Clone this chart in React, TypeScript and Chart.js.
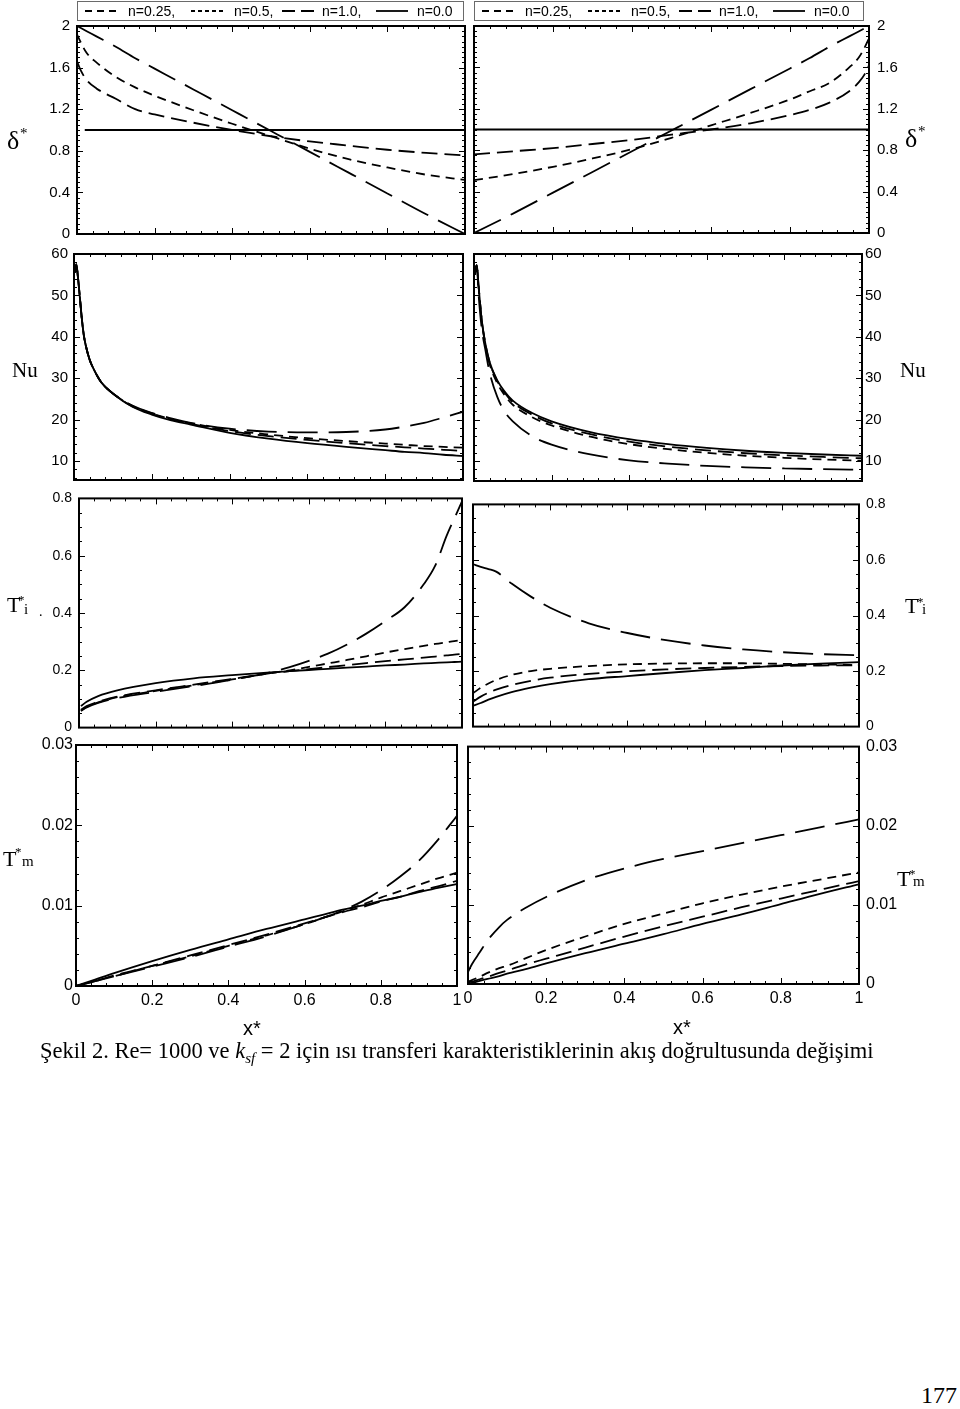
import React, { useEffect, useRef } from "react";
import { Chart, registerables } from "chart.js";

Chart.register(...registerables);
Chart.defaults.font.family = "'Liberation Sans', Arial, sans-serif";
Chart.defaults.color = "#000";

// ---------------- axis ticks ----------------
const xTicks = [0, 0.2, 0.4, 0.6, 0.8, 1];
const xTickLabels = ["0", "0.2", "0.4", "0.6", "0.8", "1"];
const deltaTicks = [0, 0.4, 0.8, 1.2, 1.6, 2];
const deltaTickLabels = ["0", "0.4", "0.8", "1.2", "1.6", "2"];
const nuTicks = [10, 20, 30, 40, 50, 60];
const nuTickLabels = ["10", "20", "30", "40", "50", "60"];
const tiTicks = [0, 0.2, 0.4, 0.6, 0.8];
const tiTickLabels = ["0", "0.2", "0.4", "0.6", "0.8"];
const tmTicks = [0, 0.01, 0.02, 0.03];
const tmTickLabels = ["0", "0.01", "0.02", "0.03"];

const seriesNames = ["n=0.25", "n=0.5", "n=1.0", "n=0.0"];
const legendTexts = ["n=0.25,", "n=0.5,", "n=1.0,", "n=0.0"];

// ---------------- δ* (left) ----------------
const deltaLeftX = [0, 0.01, 0.025, 0.05, 0.1, 0.15, 0.2, 0.3, 0.4, 0.5, 0.6, 0.7, 0.8, 0.9, 1.0];
const deltaLeftN025 = [1.66, 1.57, 1.48, 1.4, 1.3, 1.2, 1.15, 1.07, 1.0, 0.94, 0.89, 0.85, 0.81, 0.78, 0.755];
const deltaLeftN05 = [1.92, 1.84, 1.74, 1.65, 1.51, 1.41, 1.33, 1.19, 1.06, 0.94, 0.82, 0.72, 0.64, 0.57, 0.52];
const deltaLeftN10 = [2.0, 1.98, 1.95, 1.9, 1.8, 1.69, 1.59, 1.39, 1.19, 0.99, 0.79, 0.59, 0.39, 0.19, 0.0];
const deltaLeftN00X = [0.02, 1.0];
const deltaLeftN00 = [1.0, 1.0];

// ---------------- δ* (right) ----------------
const deltaRightX = [0, 0.1, 0.2, 0.3, 0.4, 0.5, 0.6, 0.7, 0.8, 0.85, 0.9, 0.95, 0.975, 0.99, 1.0];
const deltaRightN025 = [0.76, 0.79, 0.82, 0.86, 0.9, 0.95, 1.0, 1.06, 1.14, 1.19, 1.26, 1.37, 1.46, 1.54, 1.62];
const deltaRightN05 = [0.51, 0.57, 0.64, 0.72, 0.81, 0.92, 1.04, 1.16, 1.29, 1.37, 1.45, 1.6, 1.7, 1.8, 1.88];
const deltaRightN10 = [0.0, 0.19, 0.39, 0.59, 0.79, 0.99, 1.19, 1.39, 1.59, 1.69, 1.8, 1.9, 1.95, 1.98, 2.0];
const deltaRightN00X = [0, 1];
const deltaRightN00 = [1.0, 1.0];

// ---------------- Nu (left) ----------------
const nuLeftX = [0.002, 0.006, 0.01, 0.015, 0.02, 0.025, 0.03, 0.04, 0.05, 0.07, 0.1, 0.15, 0.2, 0.25, 0.3, 0.4, 0.5, 0.6, 0.7, 0.8, 0.85, 0.9, 0.95, 1.0];
const nuLeftN025 = [55.5, 57.5, 54.5, 49.6, 44.5, 40.5, 38.0, 34.5, 32.3, 29.0, 26.3, 23.2, 21.4, 20.0, 19.0, 17.2, 16.0, 15.1, 14.3, 13.6, 13.3, 13.0, 12.7, 12.4];
const nuLeftN05 = [55.5, 57.5, 54.5, 49.6, 44.5, 40.5, 38.0, 34.5, 32.3, 29.0, 26.3, 23.3, 21.5, 20.1, 19.1, 17.5, 16.4, 15.5, 14.8, 14.2, 13.9, 13.6, 13.4, 13.2];
const nuLeftN10 = [55.5, 57.5, 54.5, 49.6, 44.5, 40.5, 38.0, 34.5, 32.3, 29.0, 26.3, 23.4, 21.6, 20.3, 19.2, 17.8, 17.1, 16.9, 17.0, 17.6, 18.3, 19.2, 20.5, 21.9];
const nuLeftN00 = [55.5, 57.5, 54.5, 49.6, 44.5, 40.5, 38.0, 34.5, 32.3, 29.0, 26.3, 23.1, 21.2, 19.8, 18.8, 16.8, 15.4, 14.3, 13.4, 12.6, 12.2, 11.9, 11.5, 11.2];

// ---------------- Nu (right) ----------------
const nuRightX = [0.002, 0.007, 0.012, 0.02, 0.03, 0.04, 0.06, 0.08, 0.1, 0.15, 0.2, 0.3, 0.4, 0.5, 0.6, 0.7, 0.8, 0.9, 1.0];
const nuRightN025 = [55, 57.3, 52, 44, 38, 34, 29.3, 26.4, 24.2, 21.2, 19.1, 16.5, 14.7, 13.5, 12.6, 11.9, 11.4, 11.0, 10.7];
const nuRightN05 = [55, 57.3, 52, 44, 37.6, 33.5, 28.8, 25.8, 23.6, 20.6, 18.6, 15.9, 14.1, 12.9, 12.0, 11.3, 10.8, 10.4, 10.1];
const nuRightN10 = [55, 57.3, 50, 42, 36.5, 31.5, 25.5, 21.8, 19.6, 16.0, 14.0, 11.6, 10.2, 9.4, 8.85, 8.5, 8.25, 8.05, 7.9];
const nuRightN00 = [55, 57.3, 52, 44, 38, 34, 29.5, 26.7, 24.6, 21.6, 19.6, 17.0, 15.3, 14.1, 13.2, 12.5, 12.0, 11.6, 11.3];

// ---------------- T*i (left) ----------------
const tiLeftX = [0.005, 0.02, 0.05, 0.1, 0.2, 0.3, 0.4, 0.5, 0.55, 0.6, 0.65, 0.7, 0.75, 0.8, 0.85, 0.9, 0.93, 0.96, 0.98, 1.0];
const tiLeftN025 = [0.062, 0.075, 0.09, 0.108, 0.13, 0.15, 0.17, 0.19, 0.197, 0.204, 0.211, 0.218, 0.225, 0.232, 0.238, 0.244, 0.248, 0.252, 0.255, 0.257];
const tiLeftN05 = [0.06, 0.072, 0.088, 0.106, 0.128, 0.148, 0.168, 0.19, 0.2, 0.212, 0.224, 0.236, 0.249, 0.262, 0.274, 0.285, 0.292, 0.298, 0.302, 0.305];
const tiLeftN10 = [0.058, 0.07, 0.086, 0.103, 0.125, 0.145, 0.167, 0.193, 0.211, 0.233, 0.258, 0.29, 0.328, 0.372, 0.42, 0.5, 0.565, 0.67, 0.73, 0.79];
const tiLeftN00 = [0.075, 0.09, 0.11, 0.13, 0.155, 0.172, 0.183, 0.193, 0.197, 0.201, 0.205, 0.209, 0.213, 0.217, 0.22, 0.224, 0.226, 0.228, 0.229, 0.23];

// ---------------- T*i (right) ----------------
const tiRightX = [0, 0.02, 0.04, 0.06, 0.1, 0.15, 0.2, 0.3, 0.4, 0.5, 0.6, 0.7, 0.8, 0.9, 1.0];
const tiRightN025 = [0.09, 0.108, 0.122, 0.133, 0.15, 0.165, 0.176, 0.19, 0.199, 0.206, 0.211, 0.215, 0.218, 0.22, 0.221];
const tiRightN05 = [0.12, 0.14, 0.155, 0.168, 0.186, 0.2, 0.208, 0.218, 0.224, 0.227, 0.228, 0.228, 0.226, 0.224, 0.222];
const tiRightN10 = [0.585, 0.575, 0.567, 0.558, 0.515, 0.468, 0.428, 0.372, 0.337, 0.311, 0.292, 0.278, 0.268, 0.261, 0.257];
const tiRightN00 = [0.075, 0.085, 0.097, 0.107, 0.124, 0.14, 0.153, 0.171, 0.182, 0.193, 0.203, 0.211, 0.22, 0.227, 0.232];

// ---------------- T*m (left) ----------------
const tmLeftX = [0, 0.05, 0.1, 0.2, 0.3, 0.4, 0.5, 0.6, 0.65, 0.7, 0.75, 0.8, 0.85, 0.9, 0.95, 1.0];
const tmLeftN025 = [0, 0.0006, 0.0013, 0.0025, 0.0038, 0.0051, 0.0064, 0.0078, 0.0085, 0.0092, 0.0098, 0.0105, 0.0111, 0.0118, 0.0124, 0.0131];
const tmLeftN05 = [0, 0.0006, 0.0012, 0.0025, 0.0037, 0.005, 0.0063, 0.0077, 0.0085, 0.0093, 0.0101, 0.011, 0.0118, 0.0126, 0.0134, 0.0141];
const tmLeftN10 = [0, 0.0006, 0.0012, 0.0024, 0.0036, 0.0049, 0.0062, 0.0077, 0.0085, 0.0094, 0.0105, 0.0119, 0.0136, 0.0156, 0.0182, 0.0212];
const tmLeftN00 = [0, 0.0008, 0.0016, 0.0031, 0.0045, 0.0058, 0.0071, 0.0083, 0.0089, 0.0095, 0.01, 0.0106, 0.0111, 0.0117, 0.0122, 0.0127];

// ---------------- T*m (right) ----------------
const tmRightX = [0, 0.01, 0.03, 0.05, 0.08, 0.1, 0.15, 0.2, 0.3, 0.4, 0.5, 0.6, 0.7, 0.8, 0.9, 1.0];
const tmRightN025 = [0.0002, 0.0003, 0.0006, 0.0009, 0.0014, 0.0017, 0.0025, 0.0032, 0.0046, 0.006, 0.0073, 0.0085, 0.0097, 0.0108, 0.0119, 0.013];
const tmRightN05 = [0.0003, 0.0005, 0.0009, 0.0014, 0.002, 0.0023, 0.0033, 0.0043, 0.006, 0.0076, 0.0089, 0.0102, 0.0113, 0.0123, 0.0132, 0.0141];
const tmRightN10 = [0.0015, 0.0025, 0.004, 0.0055, 0.0072, 0.0081, 0.0097, 0.011, 0.0131, 0.0146, 0.0158, 0.0168, 0.0178, 0.0188, 0.0198, 0.0208];
const tmRightN00 = [0, 0.00013, 0.0004, 0.00065, 0.001, 0.0013, 0.0019, 0.0026, 0.0039, 0.0051, 0.0063, 0.0076, 0.0088, 0.0101, 0.0114, 0.0126];

// ---------------- styles ----------------
const plotDashes = [[16, 7], [9, 6], [30, 11], []];
const legendDashes = [[7, 5], [4, 3], [13, 6], []];

type LineDef = { xs: number[]; ys: number[] };
type PanelDef = {
  area: [number, number, number, number];
  side: "left" | "right";
  yMin: number;
  yMax: number;
  yTicks: number[];
  yTickLabels: string[];
  yMinorStep: number;
  yFont: number;
  yPad: number;
  showX: boolean;
  legend: boolean;
  lines: LineDef[];
};

function makeFrame(def: PanelDef) {
  return {
    id: "frame",
    afterDatasetsDraw(chart: any) {
      const { ctx, chartArea: a, scales } = chart;
      const xs = scales.x;
      const ys = scales.y;
      ctx.save();
      ctx.strokeStyle = "#000";
      ctx.setLineDash([]);
      ctx.lineWidth = 1;
      ctx.beginPath();
      const xMinor = 0.04;
      const nx = Math.round(1 / xMinor);
      for (let i = 1; i < nx; i++) {
        const v = i * xMinor;
        const len = i % 5 === 0 ? 6 : 3;
        const px = Math.round(xs.getPixelForValue(v)) + 0.5;
        ctx.moveTo(px, a.top);
        ctx.lineTo(px, a.top + len);
        ctx.moveTo(px, a.bottom);
        ctx.lineTo(px, a.bottom - len);
      }
      const step = def.yMinorStep;
      const k0 = Math.ceil(def.yMin / step - 1e-9);
      const k1 = Math.floor(def.yMax / step + 1e-9);
      for (let k = k0; k <= k1; k++) {
        const v = k * step;
        if (v <= def.yMin + step * 0.01 || v >= def.yMax - step * 0.01) continue;
        const major = def.yTicks.some((t) => Math.abs(t - v) < step * 0.1);
        const len = major ? 6 : 3;
        const py = Math.round(ys.getPixelForValue(v)) + 0.5;
        ctx.moveTo(a.left, py);
        ctx.lineTo(a.left + len, py);
        ctx.moveTo(a.right, py);
        ctx.lineTo(a.right - len, py);
      }
      ctx.stroke();
      ctx.lineWidth = 2;
      ctx.strokeRect(a.left, a.top, a.right - a.left, a.bottom - a.top);
      ctx.restore();
    },
  };
}

function makeLegend(def: PanelDef, offX: number, offY: number) {
  return {
    id: "nlegend",
    afterDraw(chart: any) {
      if (!def.legend) return;
      const { ctx } = chart;
      const x0 = def.area[0] - offX;
      const x1 = (def.side === "left" ? 463 : 863) - offX;
      const y0 = 1 - offY;
      const y1 = 20 - offY;
      const ym = 11 - offY;
      const sampleOff = [8, 114, 205, 299];
      const textOff = [51, 157, 245, 340];
      ctx.save();
      ctx.strokeStyle = "#6a6a6a";
      ctx.lineWidth = 1;
      ctx.setLineDash([]);
      ctx.strokeRect(x0 + 0.5, y0 + 0.5, x1 - x0, y1 - y0);
      ctx.font = "14px 'Liberation Sans', Arial, sans-serif";
      ctx.fillStyle = "#000";
      ctx.textBaseline = "middle";
      ctx.textAlign = "left";
      chart.data.datasets.forEach((_ds: any, i: number) => {
        ctx.strokeStyle = "#000";
        ctx.lineWidth = 1.8;
        ctx.setLineDash(legendDashes[i]);
        ctx.beginPath();
        ctx.moveTo(x0 + sampleOff[i], ym);
        ctx.lineTo(x0 + sampleOff[i] + 32, ym);
        ctx.stroke();
        ctx.setLineDash([]);
        ctx.fillText(legendTexts[i], x0 + textOff[i], ym + 1);
      });
      ctx.restore();
    },
  };
}

function Panel({ def }: { def: PanelDef }) {
  const ref = useRef<HTMLCanvasElement>(null);
  const [l, t, r, b] = def.area;
  const cLeft = def.side === "left" ? 0 : l - 10;
  const cTop = def.legend ? 0 : t - 14;
  const cWidth = def.side === "left" ? r + 10 : 960 - cLeft;
  const cHeight = (def.showX ? b + 44 : b + 14) - cTop;

  useEffect(() => {
    const canvas = ref.current as HTMLCanvasElement;
    const chart = new Chart(canvas, {
      type: "line",
      data: {
        datasets: def.lines.map((ln, i) => ({
          label: seriesNames[i],
          data: ln.xs.map((x, j) => ({ x, y: ln.ys[j] })),
          borderColor: "#000",
          borderWidth: 1.8,
          borderDash: plotDashes[i],
          borderCapStyle: "butt",
          pointRadius: 0,
          fill: false,
          cubicInterpolationMode: "monotone",
        })),
      },
      options: {
        animation: false,
        responsive: false,
        maintainAspectRatio: false,
        devicePixelRatio: 1,
        events: [],
        layout: {
          autoPadding: false,
          padding: {
            left: def.side === "left" ? 0 : 10,
            right: def.side === "left" ? 10 : 0,
            top: t - cTop,
            bottom: def.showX ? 0 : 14,
          },
        },
        scales: {
          x: {
            type: "linear",
            min: 0,
            max: 1,
            display: def.showX,
            position: "bottom",
            grid: { display: false, drawTicks: false, tickLength: 0 },
            border: { display: false },
            afterBuildTicks: (s: any) => {
              s.ticks = xTicks.map((v) => ({ value: v }));
            },
            afterFit: (s: any) => {
              s.height = def.showX ? 44 : 0;
            },
            ticks: {
              font: { size: 16 },
              color: "#000",
              padding: 5,
              maxRotation: 0,
              autoSkip: false,
              callback: (_v: any, i: number) => xTickLabels[i],
            },
          },
          y: {
            type: "linear",
            min: def.yMin,
            max: def.yMax,
            position: def.side,
            grid: { display: false, drawTicks: false, tickLength: 0 },
            border: { display: false },
            afterBuildTicks: (s: any) => {
              s.ticks = def.yTicks.map((v) => ({ value: v }));
            },
            afterFit: (s: any) => {
              s.width = def.side === "left" ? l : 960 - r;
            },
            ticks: {
              font: { size: def.yFont },
              color: "#000",
              padding: def.yPad,
              autoSkip: false,
              callback: (_v: any, i: number) => def.yTickLabels[i],
            },
          },
        },
        plugins: {
          legend: { display: false },
          tooltip: { enabled: false },
        },
      } as any,
      plugins: [makeFrame(def), makeLegend(def, cLeft, cTop)],
    } as any);
    return () => chart.destroy();
  }, []);

  return (
    <canvas
      ref={ref}
      width={cWidth}
      height={cHeight}
      style={{ position: "absolute", left: cLeft, top: cTop, width: cWidth, height: cHeight }}
    />
  );
}

const panels: PanelDef[] = [
  {
    area: [77, 26, 465, 236], side: "left", yMin: 0, yMax: 2, yTicks: deltaTicks, yTickLabels: deltaTickLabels,
    yMinorStep: 0.05, yFont: 15, yPad: 7, showX: false, legend: true,
    lines: [
      { xs: deltaLeftX, ys: deltaLeftN025 },
      { xs: deltaLeftX, ys: deltaLeftN05 },
      { xs: deltaLeftX, ys: deltaLeftN10 },
      { xs: deltaLeftN00X, ys: deltaLeftN00 },
    ],
  },
  {
    area: [474, 26, 869, 236], side: "right", yMin: 0, yMax: 2, yTicks: deltaTicks, yTickLabels: deltaTickLabels,
    yMinorStep: 0.05, yFont: 15, yPad: 8, showX: false, legend: true,
    lines: [
      { xs: deltaRightX, ys: deltaRightN025 },
      { xs: deltaRightX, ys: deltaRightN05 },
      { xs: deltaRightX, ys: deltaRightN10 },
      { xs: deltaRightN00X, ys: deltaRightN00 },
    ],
  },
  {
    area: [74, 253, 463, 481], side: "left", yMin: 5.4, yMax: 60, yTicks: nuTicks, yTickLabels: nuTickLabels,
    yMinorStep: 2, yFont: 15, yPad: 6, showX: false, legend: false,
    lines: [
      { xs: nuLeftX, ys: nuLeftN025 },
      { xs: nuLeftX, ys: nuLeftN05 },
      { xs: nuLeftX, ys: nuLeftN10 },
      { xs: nuLeftX, ys: nuLeftN00 },
    ],
  },
  {
    area: [474, 254, 862, 481], side: "right", yMin: 5.2, yMax: 60, yTicks: nuTicks, yTickLabels: nuTickLabels,
    yMinorStep: 2, yFont: 15, yPad: 3, showX: false, legend: false,
    lines: [
      { xs: nuRightX, ys: nuRightN025 },
      { xs: nuRightX, ys: nuRightN05 },
      { xs: nuRightX, ys: nuRightN10 },
      { xs: nuRightX, ys: nuRightN00 },
    ],
  },
  {
    area: [79, 497, 462, 729], side: "left", yMin: 0, yMax: 0.8, yTicks: tiTicks, yTickLabels: tiTickLabels,
    yMinorStep: 0.05, yFont: 14, yPad: 7, showX: false, legend: false,
    lines: [
      { xs: tiLeftX, ys: tiLeftN025 },
      { xs: tiLeftX, ys: tiLeftN05 },
      { xs: tiLeftX, ys: tiLeftN10 },
      { xs: tiLeftX, ys: tiLeftN00 },
    ],
  },
  {
    area: [473, 503, 859, 728], side: "right", yMin: 0, yMax: 0.8, yTicks: tiTicks, yTickLabels: tiTickLabels,
    yMinorStep: 0.05, yFont: 14, yPad: 7, showX: false, legend: false,
    lines: [
      { xs: tiRightX, ys: tiRightN025 },
      { xs: tiRightX, ys: tiRightN05 },
      { xs: tiRightX, ys: tiRightN10 },
      { xs: tiRightX, ys: tiRightN00 },
    ],
  },
  {
    area: [76, 745, 457, 986], side: "left", yMin: 0, yMax: 0.03, yTicks: tmTicks, yTickLabels: tmTickLabels,
    yMinorStep: 0.002, yFont: 16, yPad: 3, showX: true, legend: false,
    lines: [
      { xs: tmLeftX, ys: tmLeftN025 },
      { xs: tmLeftX, ys: tmLeftN05 },
      { xs: tmLeftX, ys: tmLeftN10 },
      { xs: tmLeftX, ys: tmLeftN00 },
    ],
  },
  {
    area: [468, 744, 859, 984], side: "right", yMin: 0, yMax: 0.03, yTicks: tmTicks, yTickLabels: tmTickLabels,
    yMinorStep: 0.002, yFont: 16, yPad: 7, showX: true, legend: false,
    lines: [
      { xs: tmRightX, ys: tmRightN025 },
      { xs: tmRightX, ys: tmRightN05 },
      { xs: tmRightX, ys: tmRightN10 },
      { xs: tmRightX, ys: tmRightN00 },
    ],
  },
];

const SERIF = "'Liberation Serif', 'Times New Roman', serif";
const SANS = "'Liberation Sans', Arial, sans-serif";

function Txt({ x, top, size, family, children, italic }: any) {
  return (
    <span
      style={{
        position: "absolute",
        left: x,
        top,
        fontSize: size,
        lineHeight: `${size}px`,
        fontFamily: family,
        fontStyle: italic ? "italic" : "normal",
        whiteSpace: "nowrap",
        color: "#000",
      }}
    >
      {children}
    </span>
  );
}

// baseline helpers (line-height = font size)
const sTop = (baseline: number, size: number) => baseline - 0.8375 * size;
const aTop = (baseline: number, size: number) => baseline - 0.8465 * size;

export default function App() {
  return (
    <div style={{ position: "absolute", left: 0, top: 0, width: 960, height: 1409, background: "#fff", overflow: "hidden" }}>
      {panels.map((p, i) => (
        <Panel key={i} def={p} />
      ))}

      {/* δ* */}
      <Txt x={7} top={sTop(150, 26)} size={26} family={SERIF}>δ</Txt>
      <Txt x={20} top={sTop(139, 15)} size={15} family={SERIF}>*</Txt>
      <Txt x={905} top={sTop(148, 26)} size={26} family={SERIF}>δ</Txt>
      <Txt x={918} top={sTop(137, 15)} size={15} family={SERIF}>*</Txt>

      {/* Nu */}
      <Txt x={12} top={sTop(378, 21)} size={21} family={SERIF}>Nu</Txt>
      <Txt x={900} top={sTop(378, 21)} size={21} family={SERIF}>Nu</Txt>

      {/* T*i */}
      <Txt x={7} top={sTop(612, 22)} size={22} family={SERIF}>T</Txt>
      <Txt x={18} top={sTop(604, 13)} size={13} family={SERIF}>*</Txt>
      <Txt x={24} top={sTop(615, 15)} size={15} family={SERIF}>i</Txt>
      <Txt x={39} top={sTop(617, 14)} size={14} family={SERIF}>.</Txt>
      <Txt x={905} top={sTop(613, 22)} size={22} family={SERIF}>T</Txt>
      <Txt x={917} top={sTop(606, 13)} size={13} family={SERIF}>*</Txt>
      <Txt x={922} top={sTop(615, 15)} size={15} family={SERIF}>i</Txt>

      {/* T*m */}
      <Txt x={3} top={sTop(866, 22)} size={22} family={SERIF}>T</Txt>
      <Txt x={15} top={sTop(856, 13)} size={13} family={SERIF}>*</Txt>
      <Txt x={22} top={sTop(867, 15)} size={15} family={SERIF}>m</Txt>
      <Txt x={897} top={sTop(886, 22)} size={22} family={SERIF}>T</Txt>
      <Txt x={909} top={sTop(878, 13)} size={13} family={SERIF}>*</Txt>
      <Txt x={913} top={sTop(887, 15)} size={15} family={SERIF}>m</Txt>

      {/* x* */}
      <Txt x={243} top={aTop(1035, 20)} size={20} family={SANS}>x*</Txt>
      <Txt x={673} top={aTop(1034, 20)} size={20} family={SANS}>x*</Txt>

      {/* caption */}
      <Txt x={40} top={sTop(1059, 22.5)} size={22.5} family={SERIF}>
        Şekil 2. Re= 1000 ve <i>k</i>
        <i style={{ fontSize: 15, position: "relative", top: 5 }}>sf</i> = 2 için ısı transferi karakteristiklerinin akış doğrultusunda değişimi
      </Txt>

      {/* page number */}
      <Txt x={921} top={sTop(1403, 24)} size={24} family={SERIF}>177</Txt>
    </div>
  );
}
